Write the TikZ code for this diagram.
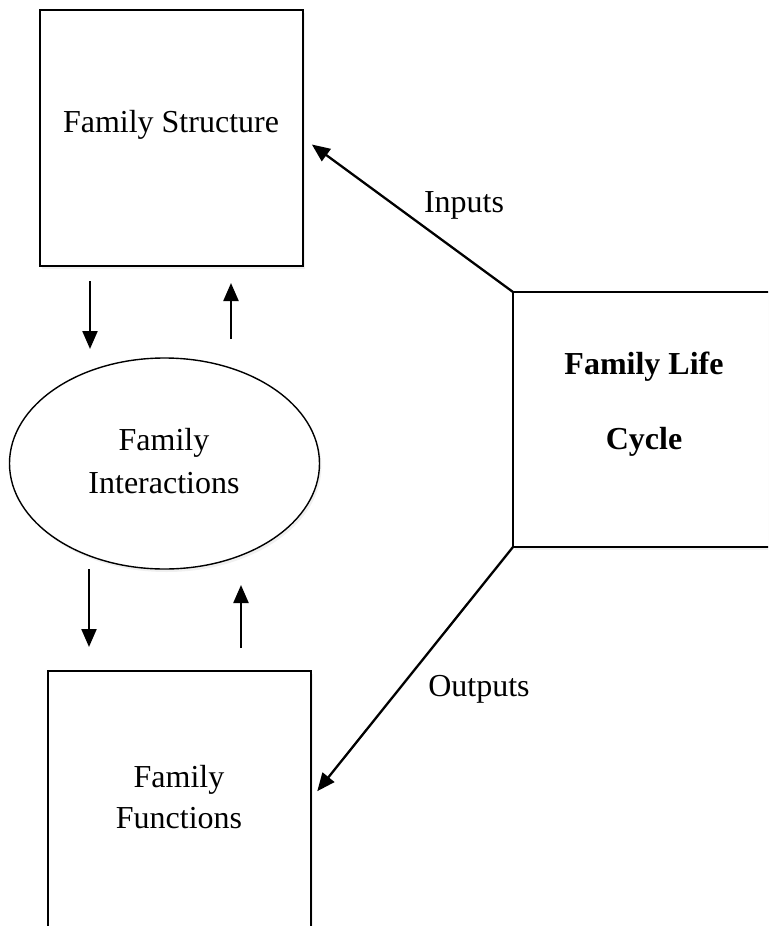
\documentclass[tikz,border=0pt]{standalone}
\usepackage{fontspec}
\setmainfont{Liberation Serif}
\usetikzlibrary{arrows.meta,shapes.geometric,shadows}
\tikzset{panel/.style={
    draw, line width=1pt, fill=white, inner sep=0pt, outer sep=0pt,
    drop shadow={opacity=0.12, shadow xshift=1pt, shadow yshift=-1.5pt}
  },
  oval/.style={
    ellipse, draw, line width=0.7pt, fill=white, inner sep=0pt, outer sep=0pt,
    minimum width=155pt, minimum height=105.5pt,
    drop shadow={opacity=0.12, shadow xshift=1pt, shadow yshift=-1.5pt}
  },
  txt/.style={font=\fontsize{16}{21.5}\selectfont, align=center, inner sep=0pt},
  boldtxt/.style={font=\fontsize{16}{21.5}\selectfont\bfseries, align=center, inner sep=0pt},
  flow/.style={line width=1.15pt, -{Triangle[length=9pt,width=7.5pt]}}
}
\begin{document}
\begin{tikzpicture}[x=0.5pt,y=-0.5pt]
    \useasboundingbox (0,0) rectangle (768,926);
    \clip (0,0) rectangle (768,926);
    \node[panel, minimum width=131.5pt, minimum height=128pt] (fs) at (171.5,138) {};
    \node[panel, minimum width=131pt, minimum height=127.5pt] (flc) at (644,419.5) {};
    \node[oval] (fi) at (164.5,463.5) {};
    \node[panel, minimum width=131.5pt, minimum height=128pt] (ff) at (179.5,799) {};
    \node[txt, anchor=base] (fstext) at (171,132) {Family Structure};
    \node[boldtxt] (flctext) at (644,404) {Family Life\\[16pt]Cycle};
    \node[txt] (fitext) at (164,461.5) {Family\\Interactions};
    \node[txt, font=\fontsize{16}{20.5}\selectfont] (fftext) at (179,797) {Family\\Functions};
    \node[txt, anchor=base] (inputs) at (464,212) {Inputs};
    \node[txt, anchor=base] (outputs) at (479,696) {Outputs};
    \coordinate (d1) at (90,0);
    \coordinate (u1) at (231,0);
    \coordinate (d2) at (89,0);
    \coordinate (u2) at (241,0);
    \draw[flow, shorten <=7.5pt, shorten >=4.5pt] (d1 |- fs.south) -- (d1 |- fi.north);
    \draw[flow, shorten <=9.5pt, shorten >=8.5pt] (u1 |- fi.north) -- (u1 |- fs.south);
    \draw[flow, shorten >=12pt] (d2 |- fi.south) -- (d2 |- ff.north);
    \draw[flow, shorten <=11.5pt, shorten >=8pt] (u2 |- ff.north) -- (u2 |- fi.south);
    \draw[flow, shorten >=5.5pt] (flc.north west) -- (fs.east);
    \draw[flow, shorten >=5pt] (flc.south west) -- (ff.east);
\end{tikzpicture}
\end{document}
